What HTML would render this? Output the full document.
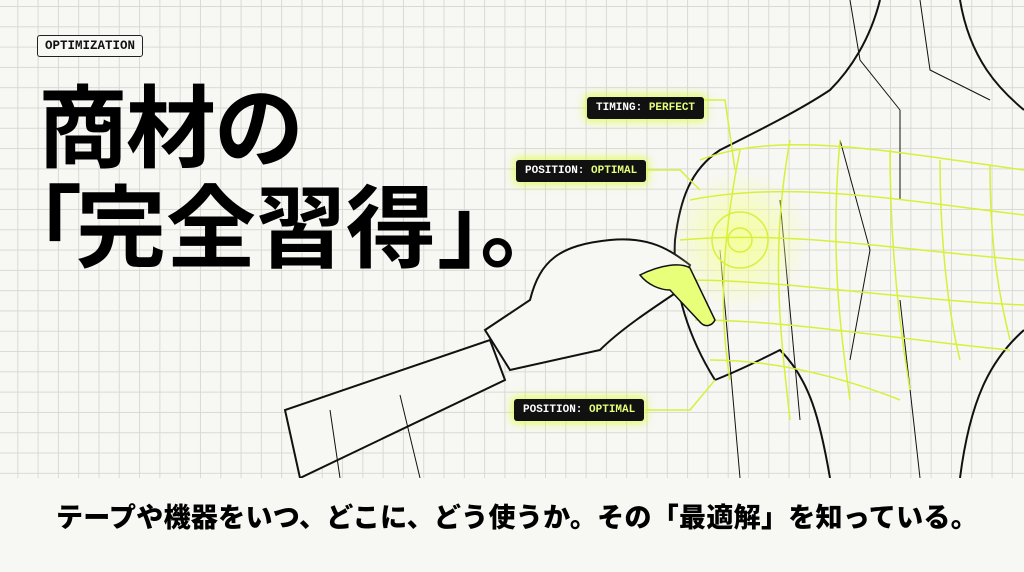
<!DOCTYPE html>
<html><head><meta charset="utf-8"><style>
html,body{margin:0;padding:0}
body{width:1024px;height:572px;overflow:hidden;position:relative;background:#f7f7f4;
background-image:linear-gradient(#d9d9d4 1px,transparent 1px),linear-gradient(90deg,#d9d9d4 1px,transparent 1px);
background-size:20.3px 20.3px;background-position:-3px 6px;font-family:"Liberation Sans","Noto Sans CJK JP",sans-serif}
.tag{position:absolute;left:37px;top:35px;border:1.5px solid #222;border-radius:3px;padding:3px 7px;font:bold 12.5px "Liberation Mono",monospace;color:#111;background:#f7f7f4}
.h{position:absolute;left:38px;font-weight:700;font-size:90px;line-height:1;color:#000;letter-spacing:-2px;font-family:"Noto Sans CJK JP",sans-serif;white-space:nowrap}
.lab{position:absolute;background:#111;color:#fff;font:bold 11px "Liberation Mono",monospace;padding:5px 9px;border-radius:3px;box-shadow:0 0 8px 3px rgba(220,255,60,.7)}
.lab b{color:#e6ff7a}
.bot{position:absolute;left:0;top:478px;width:1024px;height:94px;background:#f7f7f4}
.bt{position:absolute;left:56px;top:496px;font-weight:900;font-size:27px;color:#000;font-family:"Noto Sans CJK JP",sans-serif;letter-spacing:0.3px;white-space:nowrap}
</style></head><body>
<svg width="1024" height="572" style="position:absolute;left:0;top:0">
<defs><radialGradient id="g"><stop offset="0" stop-color="#f4ff9a"/><stop offset="1" stop-color="#f4ff9a" stop-opacity="0"/></radialGradient></defs>
<g fill="none" stroke="#111" stroke-width="2">
<path d="M880 0 C870 40 850 70 830 90 C800 110 760 130 720 150 C690 170 680 200 675 240 C672 290 690 340 715 380"/>
<path d="M960 0 C970 60 1000 90 1024 110"/>
<path d="M715 380 C740 370 760 360 780 350 C810 380 820 420 830 478"/>
<path d="M1024 330 C990 360 970 400 960 478"/>
<path d="M300 478 L285 410 L490 340 L505 380 Z" fill="#f7f7f4"/>
<path d="M485 330 L530 300 C540 260 560 245 610 240 C650 236 670 250 690 265 L680 290 C650 310 620 330 600 350 L510 370 Z" fill="#f7f7f4"/>
</g>
<g fill="none" stroke="#111" stroke-width="1">
<path d="M850 0 L860 60 L900 110 M920 0 L930 70 L990 100 M900 110 L900 200 M840 140 L870 250 L850 360 M780 200 L800 420 M720 250 L740 478 M900 300 L920 478 M330 410 L340 478 M400 395 L420 478"/>
</g>
<circle cx="740" cy="240" r="70" fill="url(#g)"/>
<g fill="none" stroke="#d8f03a" stroke-width="1.5">
<path d="M700 160 C780 130 880 150 1024 170 M690 200 C790 180 900 200 1024 215 M680 240 C790 230 900 250 1024 260 M685 280 C790 280 900 300 1024 305 M695 320 C790 320 900 340 1010 350 M710 360 C780 360 850 380 900 400"/>
<path d="M740 150 C720 250 720 320 730 380 M790 140 C770 250 780 330 790 420 M840 140 C830 250 840 330 850 400 M890 150 C890 250 900 330 910 390 M940 160 C940 250 950 320 960 360 M990 165 C990 250 1000 300 1010 340"/>
<circle cx="740" cy="240" r="28"/><circle cx="740" cy="240" r="12"/>
<path d="M700 100 L725 100 L735 170 M645 170 L680 170 L700 190 M645 410 L690 410 L715 380"/>
</g>
<path d="M640 275 C660 265 680 262 690 268 L715 320 C712 326 705 328 700 322 L670 290 C660 290 648 285 640 275 Z" fill="#e8ff7a" stroke="#111" stroke-width="1.5"/>
</svg>
<div class="tag">OPTIMIZATION</div>
<div class="h" style="top:76px">商材の</div>
<div class="h" style="top:176px;left:-8px">「</div>
<div class="h" style="top:176px;left:76px;letter-spacing:0">完全習得</div>
<div class="h" style="top:176px;left:437px">」。</div>
<div class="lab" style="left:587px;top:97px">TIMING: <b>PERFECT</b></div>
<div class="lab" style="left:516px;top:160px">POSITION: <b>OPTIMAL</b></div>
<div class="lab" style="left:514px;top:399px">POSITION: <b>OPTIMAL</b></div>
<div class="bot"></div>
<div class="bt">テープや機器をいつ、どこに、どう使うか。その「最適解」を知っている。</div>
</body></html>
